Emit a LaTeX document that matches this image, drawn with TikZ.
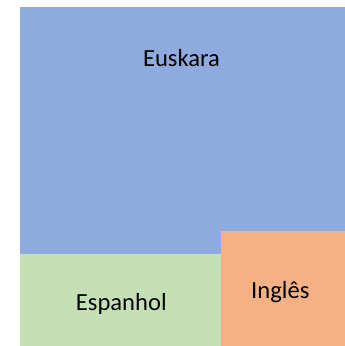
\documentclass[tikz,border=0pt]{standalone}
\usepackage{fontspec}
\setmainfont{Carlito}
\definecolor{tileblue}{HTML}{8FAADC}
\definecolor{tilegreen}{HTML}{C5E0B4}
\definecolor{tileorange}{HTML}{F4B183}
\begin{document}
\begin{tikzpicture}[x=1pt,y=-1pt,label/.style={anchor=base,inner sep=0pt,font=\fontsize{24.6}{29}\selectfont}]
\useasboundingbox (0,0) rectangle (345,346);

% Tiles
\fill[tileblue] (20,7) rectangle (345,254);
\fill[tilegreen] (20,254) rectangle (221,346);
\fill[tileorange] (221,231) rectangle (345,346);

% Labels
\node[label] (euskara) at (181.5,66.7) {Euskara};
\node[label] (espanhol) at (121.3,310) {Espanhol};
\node[label] (ingles) at (280.3,298) {Inglês};
\end{tikzpicture}
\end{document}
